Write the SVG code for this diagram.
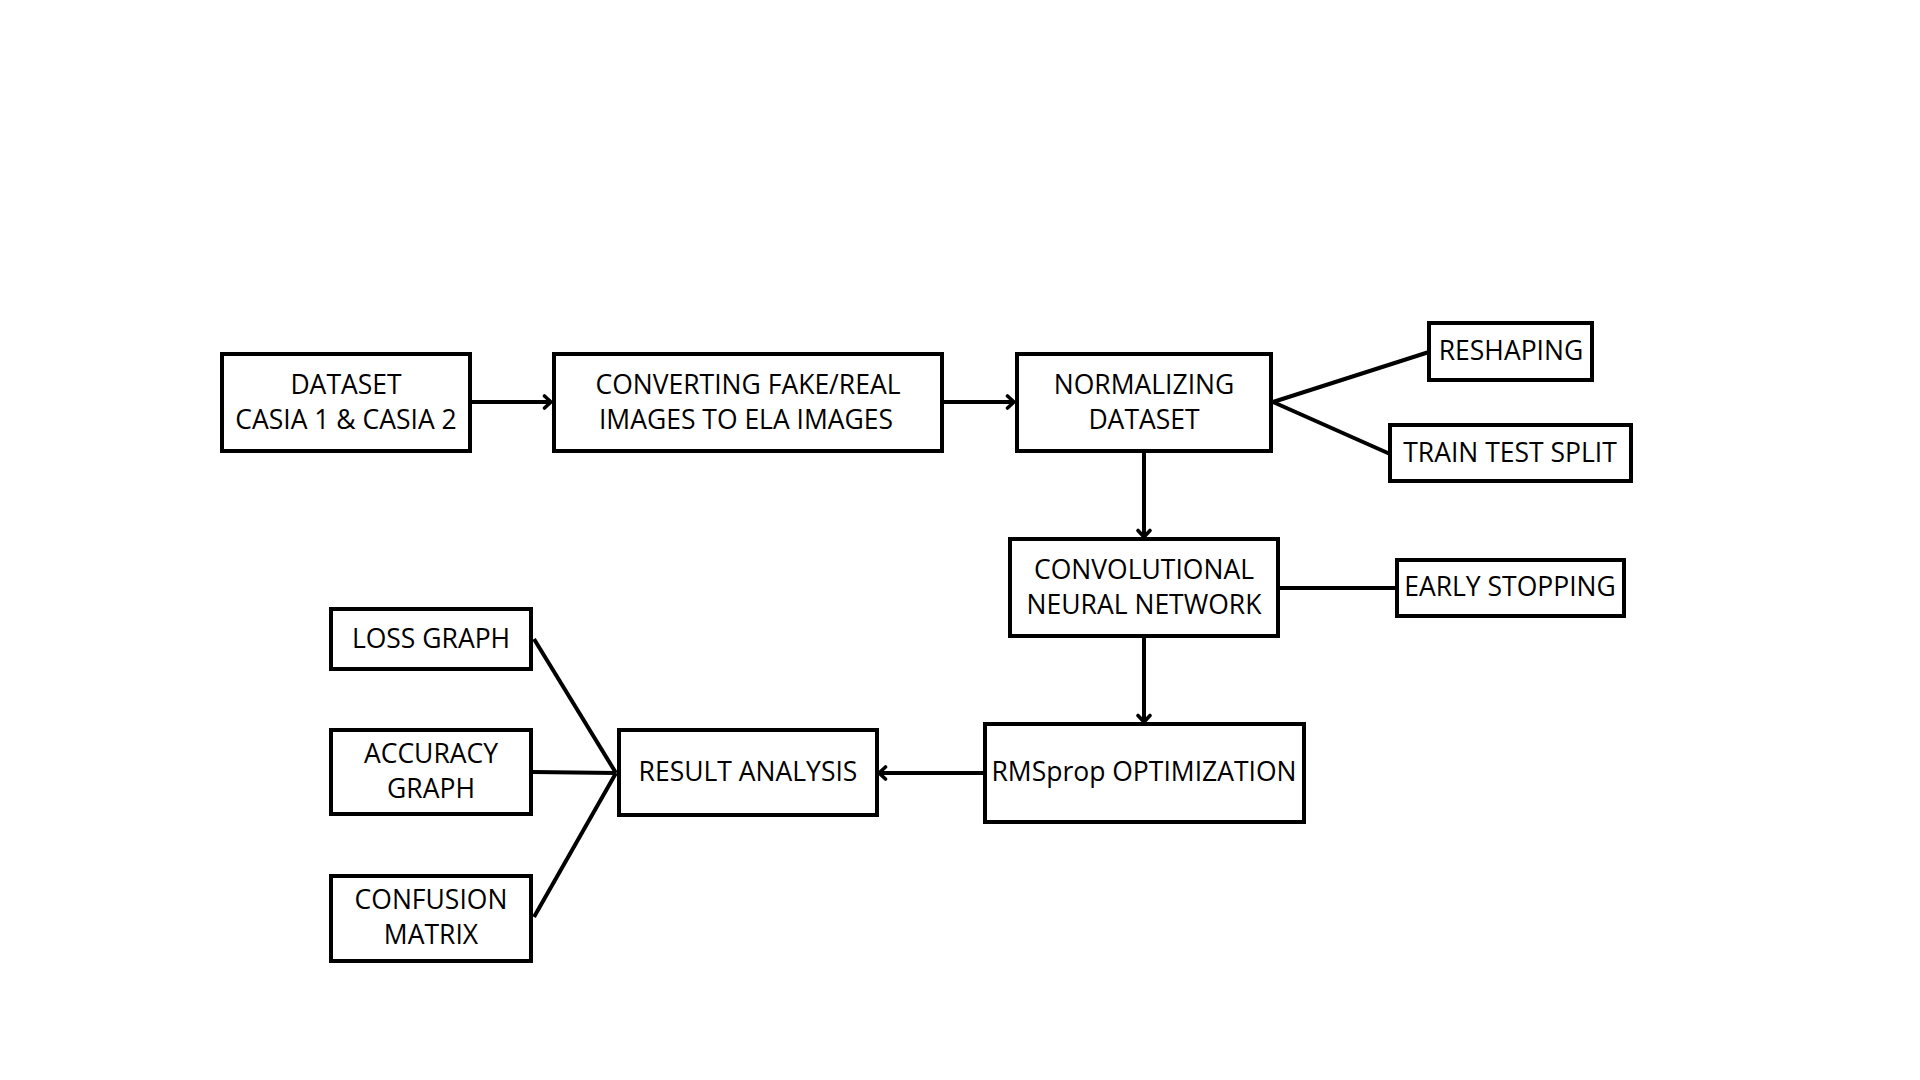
<svg xmlns="http://www.w3.org/2000/svg" width="1920" height="1080" viewBox="0 0 1920 1080">
  <style>
    .box { fill: #ffffff; stroke: #000000; stroke-width: 4; }
    .lbl { font-family: "Open Sans", "Noto Sans", "Liberation Sans", sans-serif; font-size: 26.5px; fill: #000000; text-anchor: middle; dominant-baseline: central; }
    .wire { stroke: #000000; stroke-width: 4; fill: none; }
    .arrow { marker-end: url(#chev); }
  </style>
  <defs>
    <!-- open chevron arrowhead -->
    <marker id="chev" viewBox="0 0 16 16" refX="13" refY="8" markerWidth="16" markerHeight="16" markerUnits="userSpaceOnUse" orient="auto">
      <path d="M6.5,2 L13,8 L6.5,14" fill="none" stroke="#000000" stroke-width="3.6" stroke-linecap="round" stroke-linejoin="round"/>
    </marker>
  </defs>
  <rect width="1920" height="1080" fill="#ffffff"/>

  <!-- connectors -->
  <g id="connectors">
    <line class="wire arrow" x1="472" y1="402" x2="551" y2="402"/>
    <line class="wire arrow" x1="943" y1="402" x2="1014" y2="402"/>
    <line class="wire" x1="1273" y1="402" x2="1429" y2="352"/>
    <line class="wire" x1="1273" y1="402" x2="1390" y2="454"/>
    <line class="wire arrow" x1="1144" y1="452" x2="1144" y2="537"/>
    <line class="wire" x1="1279" y1="588" x2="1397" y2="588"/>
    <line class="wire arrow" x1="1144" y1="637" x2="1144" y2="722"/>
    <line class="wire arrow" x1="983" y1="773" x2="879" y2="773"/>
    <line class="wire" x1="534" y1="639" x2="616" y2="773"/>
    <line class="wire" x1="533" y1="772" x2="616" y2="773"/>
    <line class="wire" x1="534" y1="917" x2="616" y2="773"/>
  </g>

  <g id="dataset">
    <rect class="box" x="222" y="354" width="248" height="97"/>
    <text class="lbl" x="346" y="384">DATASET</text>
    <text class="lbl" x="346" y="419">CASIA 1 &amp; CASIA 2</text>
  </g>
  <g id="ela">
    <rect class="box" x="554" y="354" width="388" height="97"/>
    <text class="lbl" x="748" y="384">CONVERTING FAKE/REAL</text>
    <text class="lbl" x="746" y="419">IMAGES TO ELA IMAGES</text>
  </g>
  <g id="normalize">
    <rect class="box" x="1017" y="354" width="254" height="97"/>
    <text class="lbl" x="1144" y="384">NORMALIZING</text>
    <text class="lbl" x="1144" y="419">DATASET</text>
  </g>
  <g id="reshaping">
    <rect class="box" x="1429" y="323" width="163" height="57"/>
    <text class="lbl" x="1511" y="350">RESHAPING</text>
  </g>
  <g id="split">
    <rect class="box" x="1390" y="425" width="241" height="56"/>
    <text class="lbl" x="1510" y="452">TRAIN TEST SPLIT</text>
  </g>
  <g id="cnn">
    <rect class="box" x="1010" y="539" width="268" height="97"/>
    <text class="lbl" x="1144" y="569">CONVOLUTIONAL</text>
    <text class="lbl" x="1144" y="604">NEURAL NETWORK</text>
  </g>
  <g id="early-stopping">
    <rect class="box" x="1397" y="560" width="227" height="56"/>
    <text class="lbl" x="1510" y="586">EARLY STOPPING</text>
  </g>
  <g id="rmsprop">
    <rect class="box" x="985" y="724" width="319" height="98"/>
    <text class="lbl" x="1144" y="771">RMSprop OPTIMIZATION</text>
  </g>
  <g id="result">
    <rect class="box" x="619" y="730" width="258" height="85"/>
    <text class="lbl" x="748" y="771">RESULT ANALYSIS</text>
  </g>
  <g id="loss">
    <rect class="box" x="331" y="609" width="200" height="60"/>
    <text class="lbl" x="431" y="638">LOSS GRAPH</text>
  </g>
  <g id="accuracy">
    <rect class="box" x="331" y="730" width="200" height="84"/>
    <text class="lbl" x="431" y="753">ACCURACY</text>
    <text class="lbl" x="431" y="788">GRAPH</text>
  </g>
  <g id="confusion">
    <rect class="box" x="331" y="876" width="200" height="85"/>
    <text class="lbl" x="431" y="899">CONFUSION</text>
    <text class="lbl" x="431" y="934">MATRIX</text>
  </g>
</svg>
